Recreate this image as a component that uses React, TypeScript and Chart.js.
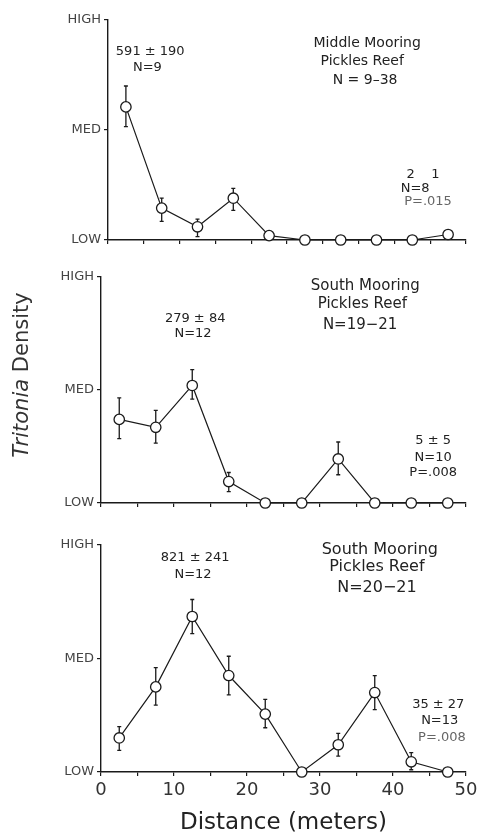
import React, { useEffect, useRef } from 'react';
import { Chart, registerables } from 'chart.js';

Chart.register(...registerables);

// ---------- data ----------
const distances = [2.5, 7.5, 12.5, 17.5, 22.5, 27.5, 32.5, 37.5, 42.5, 47.5];
const yTickLabels = ['LOW', 'MED', 'HIGH'];

// Middle Mooring, Pickles Reef
const middleMean = [1.21, 0.29, 0.12, 0.38, 0.04, 0, 0, 0, 0, 0.05];
const middleLow = [1.03, 0.17, 0.03, 0.27, null, null, null, null, null, null];
const middleHigh = [1.4, 0.38, 0.19, 0.47, null, null, null, null, null, null];

// South Mooring, Pickles Reef (N=19-21)
const southAMean = [0.74, 0.67, 1.04, 0.19, 0, 0, 0.39, 0, 0, 0];
const southALow = [0.57, 0.53, 0.92, 0.1, null, null, 0.25, null, null, null];
const southAHigh = [0.93, 0.82, 1.18, 0.27, null, null, 0.54, null, null, null];

// South Mooring, Pickles Reef (N=20-21)
const southBMean = [0.3, 0.75, 1.37, 0.85, 0.51, 0, 0.24, 0.7, 0.09, 0];
const southBLow = [0.19, 0.59, 1.22, 0.68, 0.39, null, 0.14, 0.55, 0.02, null];
const southBHigh = [0.4, 0.92, 1.52, 1.02, 0.64, null, 0.34, 0.85, 0.17, null];

// annotation texts (x in meters, y in density units)
const middleNotes = [
  { text: '591 ± 190', x: 5.9, y: 1.71 },
  { text: 'N=9', x: 5.5, y: 1.57 },
  { text: 'Middle Mooring', x: 36.2, y: 1.79, big: true },
  { text: 'Pickles Reef', x: 35.5, y: 1.62, big: true },
  { text: 'N = 9–38', x: 35.9, y: 1.45, big: true },
  { text: '2    1', x: 44.0, y: 0.59 },
  { text: 'N=8', x: 42.9, y: 0.47 },
  { text: 'P=.015', x: 44.7, y: 0.35, light: true },
];
const southANotes = [
  { text: '279 ± 84', x: 12.9, y: 1.63 },
  { text: 'N=12', x: 12.6, y: 1.5 },
  { text: 'South Mooring', x: 36.2, y: 1.92, big: true },
  { text: 'Pickles Reef', x: 35.8, y: 1.76, big: true },
  { text: 'N=19−21', x: 35.5, y: 1.57, big: true },
  { text: '5 ± 5', x: 45.5, y: 0.55 },
  { text: 'N=10', x: 45.5, y: 0.4 },
  { text: 'P=.008', x: 45.5, y: 0.27 },
];
const southBNotes = [
  { text: '821 ± 241', x: 12.9, y: 1.89 },
  { text: 'N=12', x: 12.6, y: 1.74 },
  { text: 'South Mooring', x: 38.2, y: 1.96, big: true },
  { text: 'Pickles Reef', x: 37.8, y: 1.81, big: true },
  { text: 'N=20−21', x: 37.8, y: 1.62, big: true },
  { text: '35 ± 27', x: 46.2, y: 0.59 },
  { text: 'N=13', x: 46.4, y: 0.45 },
  { text: 'P=.008', x: 46.7, y: 0.3, light: true },
];

const FONT = '"DejaVu Sans", sans-serif';
const INK = '#1a1a1a';

type Note = { text: string; x: number; y: number; big?: boolean; light?: boolean };

type PanelSpec = {
  top: number;
  height: number;
  padTop: number;
  yWidth: number;
  xHeight: number;
  mean: number[];
  low: (number | null)[];
  high: (number | null)[];
  notes: Note[];
  bigSize: number;
  showXLabels: boolean;
  yTitle: boolean;
};

const panels: PanelSpec[] = [
  { top: 0, height: 262, padTop: 20, yWidth: 108, xHeight: 22, mean: middleMean, low: middleLow, high: middleHigh, notes: middleNotes, bigSize: 14, showXLabels: false, yTitle: false },
  { top: 262, height: 268, padTop: 15, yWidth: 101, xHeight: 27, mean: southAMean, low: southALow, high: southAHigh, notes: southANotes, bigSize: 15, showXLabels: false, yTitle: true },
  { top: 530, height: 305, padTop: 15, yWidth: 101, xHeight: 63, mean: southBMean, low: southBLow, high: southBHigh, notes: southBNotes, bigSize: 16, showXLabels: true, yTitle: false },
];

function Panel({ spec }: { spec: PanelSpec }) {
  const ref = useRef<HTMLCanvasElement>(null);
  useEffect(() => {
    const errorBars = {
      id: 'errorBars',
      beforeDatasetsDraw(chart: any) {
        const { ctx, scales } = chart;
        const xs = scales.x;
        const ys = scales.y;
        ctx.save();
        ctx.strokeStyle = INK;
        ctx.lineWidth = 1.3;
        distances.forEach((d, i) => {
          const px = xs.getPixelForValue(d);
          const py = ys.getPixelForValue(spec.mean[i]);
          const ends = [spec.low[i], spec.high[i]];
          ends.forEach((v) => {
            if (v === null || v === undefined) return;
            const ey = ys.getPixelForValue(v);
            ctx.beginPath();
            ctx.moveTo(px, py);
            ctx.lineTo(px, ey);
            ctx.moveTo(px - 2, ey);
            ctx.lineTo(px + 2, ey);
            ctx.stroke();
          });
        });
        ctx.restore();
      },
    };
    const notes = {
      id: 'notes',
      afterDraw(chart: any) {
        const { ctx, scales } = chart;
        ctx.save();
        ctx.textAlign = 'center';
        ctx.textBaseline = 'middle';
        spec.notes.forEach((n) => {
          ctx.font = `${n.big ? spec.bigSize : 13}px ${FONT}`;
          ctx.fillStyle = n.light ? '#666' : '#222';
          ctx.fillText(n.text, scales.x.getPixelForValue(n.x), scales.y.getPixelForValue(n.y));
        });
        if (spec.yTitle) {
          ctx.translate(23, 375 - spec.top);
          ctx.rotate(-Math.PI / 2);
          const italic = `italic 21px ${FONT}`;
          const normal = `21px ${FONT}`;
          ctx.font = italic;
          const w1 = ctx.measureText('Tritonia').width;
          ctx.font = normal;
          const w2 = ctx.measureText(' Density').width;
          const start = -(w1 + w2) / 2;
          ctx.textAlign = 'left';
          ctx.fillStyle = '#333';
          ctx.font = italic;
          ctx.fillText('Tritonia', start, 0);
          ctx.font = normal;
          ctx.fillText(' Density', start + w1, 0);
        }
        ctx.restore();
      },
    };

    const chart = new Chart(ref.current!, {
      type: 'line',
      data: {
        datasets: [
          {
            data: distances.map((d, i) => ({ x: d, y: spec.mean[i] })),
            borderColor: INK,
            borderWidth: 1.2,
            pointRadius: 5.2,
            pointBorderWidth: 1.3,
            pointBackgroundColor: '#fff',
            pointBorderColor: INK,
            tension: 0,
            clip: false as any,
          },
        ],
      },
      options: {
        animation: false,
        responsive: false,
        layout: { padding: { top: spec.padTop, right: 14, left: 0, bottom: 0 } },
        plugins: { legend: { display: false }, tooltip: { enabled: false } },
        scales: {
          x: {
            type: 'linear',
            min: 0,
            max: 50,
            ticks: {
              stepSize: 5,
              autoSkip: false,
              maxRotation: 0,
              padding: 4,
              color: '#333',
              font: { family: FONT, size: 18 },
              callback: (v: any) => (spec.showXLabels && Number(v) % 10 === 0 ? String(v) : ''),
            },
            grid: { display: true, drawOnChartArea: false, drawTicks: true, tickLength: 4, color: INK, lineWidth: 1.2 },
            border: { display: true, color: INK, width: 1.4 },
            title: {
              display: spec.showXLabels,
              text: 'Distance (meters)',
              color: '#222',
              font: { family: FONT, size: 23, lineHeight: 1.0 },
              padding: { top: 0, bottom: 0 },
            },
            afterFit: (s: any) => {
              s.height = spec.xHeight;
              s.paddingLeft = 0;
              s.paddingRight = 0;
            },
          },
          y: {
            min: 0,
            max: 2,
            ticks: {
              stepSize: 1,
              padding: 3,
              color: '#444',
              font: { family: FONT, size: 13 },
              callback: (v: any) => yTickLabels[Number(v)] ?? '',
            },
            grid: { display: true, drawOnChartArea: false, drawTicks: true, tickLength: 4, color: INK, lineWidth: 1.2 },
            border: { display: true, color: INK, width: 1.4 },
            afterFit: (s: any) => {
              s.width = spec.yWidth;
              s.paddingTop = 0;
              s.paddingBottom = 0;
            },
          },
        },
      } as any,
      plugins: [errorBars, notes],
    });
    return () => chart.destroy();
  }, []);
  return (
    <canvas
      ref={ref}
      width={480}
      height={spec.height}
      style={{ position: 'absolute', left: 0, top: spec.top, display: 'block' }}
    />
  );
}

export default function App() {
  return (
    <div style={{ position: 'absolute', left: 0, top: 0, width: 480, height: 835, background: '#fff' }}>
      {panels.map((p, i) => (
        <Panel key={i} spec={p} />
      ))}
    </div>
  );
}
